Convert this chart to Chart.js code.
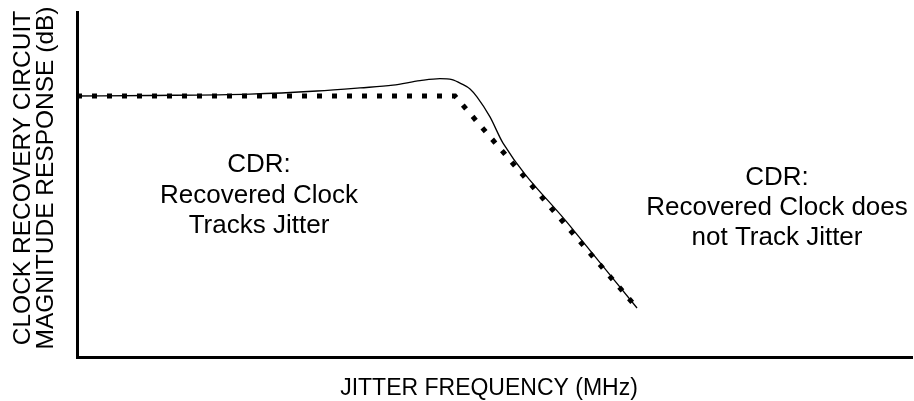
<!DOCTYPE html>
<html>
<head>
<meta charset="utf-8">
<script src="https://cdn.jsdelivr.net/npm/chart.js@4"></script>
<style>
  html, body { margin: 0; padding: 0; background: #fff; }
  #wrap { width: 914px; height: 401px; position: relative; }
</style>
</head>
<body>
<div id="wrap"><canvas id="cdrChart"></canvas></div>
<script>
// Closed-loop CDR response (arbitrary units)
const responseFreq = [0, 8.74, 20.72, 28.74, 33.89, 37.84, 41.08, 43.47, 44.91, 46.11, 47.07, 47.9, 49.46, 51.02, 59.04, 67.07];
const responseMag = [75.65, 75.8, 76.2, 77.1, 78.0, 78.8, 80.1, 80.7, 80.4, 79.1, 77.7, 75.4, 69.6, 62.0, 38.0, 14.2];

// Ideal (asymptotic) response
const idealFreq = [0, 45.27, 67.07];
const idealMag = [75.65, 75.65, 14.2];

const yTitleLines = ["CLOCK RECOVERY CIRCUIT", "MAGNITUDE RESPONSE (dB)"];
const xTitle = "JITTER FREQUENCY (MHz)";
const leftNote = ["CDR:", "Recovered Clock", "Tracks Jitter"];
const rightNote = ["CDR:", "Recovered Clock does", "not Track Jitter"];

const FONT = '"Liberation Sans", Arial, sans-serif';

function toPoints(xs, ys) {
  return xs.map((x, i) => ({ x: x, y: ys[i] }));
}

// draws axis titles and the two text notes
const labelsPlugin = {
  id: "labels",
  afterDraw(chart) {
    const ctx = chart.ctx;
    ctx.save();
    ctx.fillStyle = "#000";
    ctx.textAlign = "center";

    ctx.font = "26px " + FONT;
    ctx.textBaseline = "alphabetic";
    leftNote.forEach((line, i) => ctx.fillText(line, 259, 172 + i * 30.5));
    rightNote.forEach((line, i) => ctx.fillText(line, 777, 185 + i * 30));

    ctx.font = "23px " + FONT;
    ctx.fillText(xTitle, 489, 395);

    ctx.font = "24.5px " + FONT;
    ctx.textBaseline = "middle";
    ctx.translate(0, 178);
    ctx.rotate(-Math.PI / 2);
    ctx.fillText(yTitleLines[0], 0, 23.5);
    ctx.fillText(yTitleLines[1], 0, 46.5);
    ctx.restore();
  },
};

document.addEventListener("DOMContentLoaded", () => {
  const ctx = document.getElementById("cdrChart").getContext("2d");
  new Chart(ctx, {
    type: "line",
    data: {
      datasets: [
        {
          label: "Actual",
          data: toPoints(responseFreq, responseMag),
          borderColor: "#000",
          borderWidth: 1.3,
          pointRadius: 0,
          cubicInterpolationMode: "monotone",
          fill: false,
        },
        {
          label: "Ideal",
          data: toPoints(idealFreq, idealMag),
          borderColor: "#000",
          borderWidth: 5,
          borderDash: [5, 10],
          borderCapStyle: "butt",
          pointRadius: 0,
          tension: 0,
          fill: false,
        },
      ],
    },
    options: {
      responsive: true,
      maintainAspectRatio: false,
      animation: false,
      layout: { padding: { left: 77, right: 2, top: 12, bottom: 44 } },
      plugins: {
        legend: { display: false },
        tooltip: { enabled: false },
      },
      scales: {
        x: {
          type: "linear",
          min: 0,
          max: 100,
          grid: { display: false },
          ticks: { display: false },
          border: { display: true, color: "#000", width: 3 },
          afterFit: (scale) => { scale.height = 0; },
        },
        y: {
          type: "linear",
          min: 0,
          max: 100,
          grid: { display: false },
          ticks: { display: false },
          border: { display: true, color: "#000", width: 3 },
          afterFit: (scale) => { scale.width = 0; },
        },
      },
    },
    plugins: [labelsPlugin],
  });
});
</script>
</body>
</html>
